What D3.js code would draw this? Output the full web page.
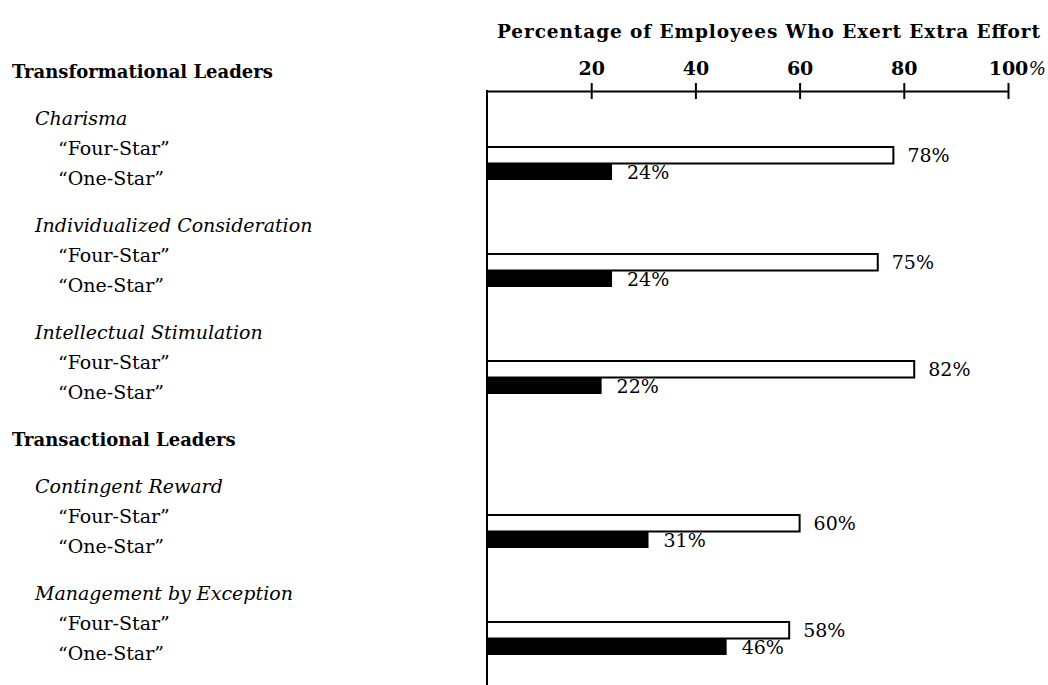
<!DOCTYPE html>
<html>
<head>
<meta charset="utf-8">
<script src="https://cdn.jsdelivr.net/npm/d3@7"></script>
<style>
    body { margin: 0; background: #fff; }
    svg text { font-family: "DejaVu Serif", serif; fill: #000; }
</style>
</head>
<body>
<div id="chart"></div>
<script>
(function () {
    "use strict";

    // chart values
    var groups = ["Transformational Leaders", "Transactional Leaders"];
    var factors = ["Charisma", "Individualized Consideration", "Intellectual Stimulation",
                   "Contingent Reward", "Management by Exception"];
    var factorGroup = [0, 0, 0, 1, 1];
    var ratings = ["\u201CFour-Star\u201D", "\u201COne-Star\u201D"];
    var fourStar = [78, 75, 82, 60, 58];
    var oneStar = [24, 24, 22, 31, 46];
    var tickValues = [20, 40, 60, 80, 100];
    var axisTitle = "Percentage of Employees Who Exert Extra Effort";

    var width = 1048, height = 685;
    var axisY = 91;
    var firstLine = 78, linePitch = 30, sectionGap = 17;

    var svg = d3.select("#chart").append("svg")
        .attr("width", width)
        .attr("height", height);

    //build the list of text lines on the left: heading, factor, then the two ratings
    var lines = [];
    var lastGroup = -1;
    factors.forEach(function (f, i) {
        if (factorGroup[i] !== lastGroup) {
            lines.push({ kind: "group", text: groups[factorGroup[i]] });
            lastGroup = factorGroup[i];
        }
        lines.push({ kind: "factor", text: f });
        lines.push({ kind: "rating", text: ratings[0], factor: i });
        lines.push({ kind: "rating", text: ratings[1], factor: i });
    });

    //running position in pitch units, headings and factors get extra space above
    var pos = 0;
    lines.forEach(function (d, i) {
        if (i > 0) {
            pos += 1;
            if (d.kind !== "rating") { pos += sectionGap / linePitch; }
        }
        d.pos = pos;
    });

    var y = d3.scaleLinear().domain([0, 1]).range([firstLine, firstLine + linePitch]);
    var x = d3.scaleLinear().domain([0, 100]).range([487, 1008]);

    var indent = { group: 12, factor: 35, rating: 58 };

    svg.append("g").selectAll("text")
        .data(lines)
        .join("text")
        .attr("x", function (d) { return indent[d.kind]; })
        .attr("y", function (d) { return y(d.pos); })
        .style("font-size", function (d) { return d.kind === "group" ? "18px" : "19px"; })
        .style("font-weight", function (d) { return d.kind === "group" ? "bold" : "normal"; })
        .style("font-style", function (d) { return d.kind === "factor" ? "italic" : "normal"; })
        .text(function (d) { return d.text; });

    //axis title
    svg.append("text")
        .attr("x", 497)
        .attr("y", 38)
        .attr("textLength", 543)
        .attr("lengthAdjust", "spacing")
        .style("font-size", "18.5px")
        .style("font-weight", "bold")
        .text(axisTitle);

    //top axis, ticks cross the line
    var axis = svg.append("g")
        .attr("transform", "translate(0," + axisY + ")")
        .call(d3.axisTop(x).tickValues(tickValues).tickSize(8).tickSizeOuter(0).tickPadding(8));

    axis.select(".domain").attr("stroke", "#000").attr("stroke-width", 2);
    axis.selectAll(".tick line").attr("y1", 8).attr("stroke", "#000").attr("stroke-width", 2);
    axis.selectAll(".tick text")
        .style("font-family", "'DejaVu Serif', serif")
        .style("font-size", "19px")
        .style("font-weight", "bold")
        .attr("fill", "#000");

    //percent sign hangs after the last number
    var lastTick = axis.selectAll(".tick text").filter(function (d) { return d === 100; });
    var half = lastTick.node().getComputedTextLength() / 2;
    axis.append("text")
        .attr("x", x(100) + half + 1)
        .attr("y", -16)
        .attr("text-anchor", "start")
        .style("font-family", "'DejaVu Serif', serif")
        .style("font-size", "18px")
        .style("font-style", "italic")
        .attr("fill", "#000")
        .text("%");

    //vertical base line
    svg.append("line")
        .attr("x1", x(0)).attr("x2", x(0))
        .attr("y1", axisY - 1).attr("y2", height)
        .attr("stroke", "#000")
        .attr("stroke-width", 2);

    //bars sit next to the "Four-Star" line of each factor
    var barH = 16.5;
    var fourLines = lines.filter(function (d) { return d.kind === "rating" && d.text === ratings[0]; });
    var bars = fourLines.map(function (d) {
        return { top: y(d.pos) - 8, four: fourStar[d.factor], one: oneStar[d.factor] };
    });

    var g = svg.append("g");

    g.selectAll("rect.one")
        .data(bars)
        .join("rect")
        .attr("class", "one")
        .attr("x", x(0))
        .attr("y", function (d) { return d.top + barH; })
        .attr("width", function (d) { return x(d.one) - x(0); })
        .attr("height", barH)
        .attr("fill", "#000");

    g.selectAll("rect.four")
        .data(bars)
        .join("rect")
        .attr("class", "four")
        .attr("x", x(0))
        .attr("y", function (d) { return d.top; })
        .attr("width", function (d) { return x(d.four) - x(0); })
        .attr("height", barH)
        .attr("fill", "#fff")
        .style("stroke", "#000")
        .style("stroke-width", 2);

    g.selectAll("text.four")
        .data(bars)
        .join("text")
        .attr("class", "four")
        .attr("x", function (d) { return x(d.four) + 14; })
        .attr("y", function (d) { return d.top + barH / 2 + 7; })
        .style("font-size", "19px")
        .text(function (d) { return d.four + "%"; });

    g.selectAll("text.one")
        .data(bars)
        .join("text")
        .attr("class", "one")
        .attr("x", function (d) { return x(d.one) + 15; })
        .attr("y", function (d) { return d.top + barH * 1.5 + 7; })
        .style("font-size", "19px")
        .text(function (d) { return d.one + "%"; });

})();
</script>
</body>
</html>
